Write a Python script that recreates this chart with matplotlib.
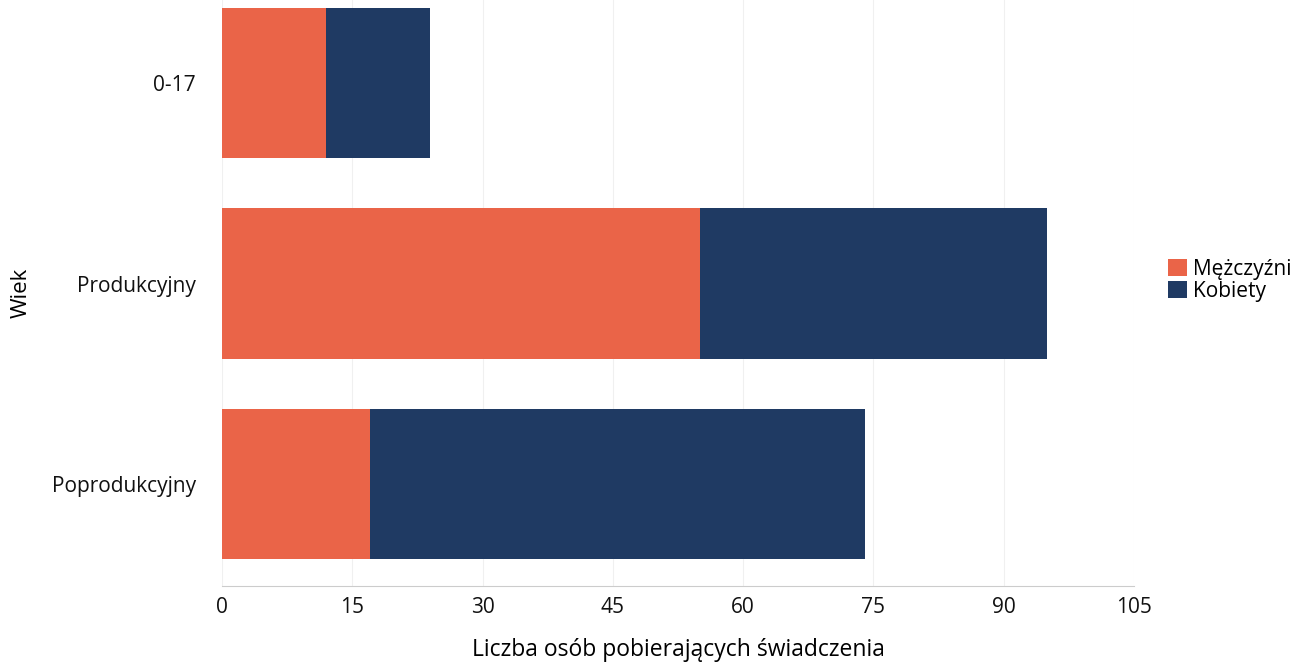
import matplotlib.pyplot as plt

plt.rcParams['font.family'] = ['Open Sans', 'DejaVu Sans']

categories = ["0-17", "Produkcyjny", "Poprodukcyjny"]
men = [12, 55, 17]
women = [12, 40, 57]
xticks = [0, 15, 30, 45, 60, 75, 90, 105]

fig = plt.figure(figsize=(13.1, 6.66), dpi=100)
ax = fig.add_axes([0.1695, 0.12, 0.6961, 0.88])

y = list(range(len(categories)))
ax.barh(y, men, height=0.75, color="#EA6448", label="Mężczyźni", zorder=2)
ax.barh(y, women, left=men, height=0.75, color="#1F3A63", label="Kobiety", zorder=2)

ax.set_ylim(2.51, -0.415)
ax.set_xlim(0, 105)
ax.set_xticks(xticks)
ax.set_yticks(y)
ax.set_yticklabels(categories)
ax.tick_params(axis='both', length=0, labelsize=15, colors="#111111")
ax.tick_params(axis='x', pad=8)
ax.tick_params(axis='y', pad=19)
ax.grid(axis='x', color="#f0f0f0", linewidth=0.8, zorder=0)

for s in ['top', 'right', 'left']:
    ax.spines[s].set_visible(False)
ax.spines['bottom'].set_color("#cccccc")

ax.set_xlabel("Liczba osób pobierających świadczenia", fontsize=16.5, labelpad=14)
ax.set_ylabel("Wiek", fontsize=16)
ax.yaxis.set_label_coords(-0.209, 0.5)

ax.legend(loc='center left', bbox_to_anchor=(1.028, 0.522), frameon=False,
          fontsize=15, handlelength=0.9, handleheight=0.9, handletextpad=0.3,
          labelspacing=0.05, borderaxespad=0)

fig.savefig("out.png", dpi=100)
